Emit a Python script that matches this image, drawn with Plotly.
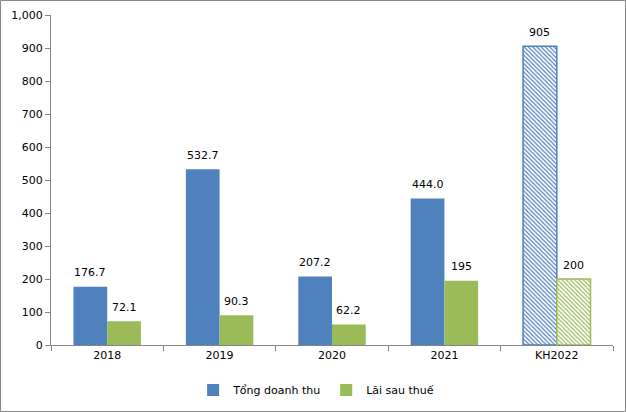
import plotly.graph_objects as go

categories = ["2018", "2019", "2020", "2021", "KH2022"]
revenue = [176.7, 532.7, 207.2, 444.0, 905]
profit = [72.1, 90.3, 62.2, 195, 200]
revenue_labels = ["176.7", "532.7", "207.2", "444.0", "905"]
profit_labels = ["72.1", "90.3", "62.2", "195", "200"]
series_names = ["Tổng doanh thu", "Lãi sau thuế"]
y_ticks = [0, 100, 200, 300, 400, 500, 600, 700, 800, 900, 1000]

BLUE = "#4F81BD"
GREEN = "#9BBB59"
plan = [c.startswith("KH") for c in categories]

W, H = 626, 412
ML, MR, MT, MB = 51, 13, 15, 67
PW, PH = W - ML - MR, H - MT - MB
BARGAP = 0.4

def marker_for(color):
    return dict(
        color=color,
        pattern=dict(
            shape=["\\" if p else "" for p in plan],
            bgcolor="white",
            size=3,
            solidity=0.4,
            fillmode="replace",
        ),
        line=dict(color=color, width=[1.5 if p else 0 for p in plan]),
    )

fig = go.Figure()
fig.add_trace(go.Bar(x=categories, y=revenue, name=series_names[0], marker=marker_for(BLUE)))
fig.add_trace(go.Bar(x=categories, y=profit, name=series_names[1], marker=marker_for(GREEN)))

# value labels above bars (x given as category index)
bar_w = PW / len(categories) * (1 - BARGAP) / 2
for vals, labels, sign in [(revenue, revenue_labels, -1), (profit, profit_labels, 1)]:
    for i, (v, t) in enumerate(zip(vals, labels)):
        fig.add_annotation(x=i, y=v, text=t, showarrow=False, xref="x", yref="y",
                           xshift=sign * bar_w / 2, yshift=14, yanchor="middle",
                           font=dict(size=11, color="black"))

fig.update_layout(
    width=W, height=H,
    margin=dict(l=ML, r=MR, t=MT, b=MB, autoexpand=False),
    paper_bgcolor="white", plot_bgcolor="white",
    font=dict(family="DejaVu Sans", size=11, color="black"),
    barmode="group", bargap=BARGAP, bargroupgap=0,
    showlegend=True,
    legend=dict(orientation="h", x=0.505, xanchor="center", xref="container",
                y=1 - 390 / H, yanchor="middle", yref="container",
                font=dict(size=11), itemwidth=30, traceorder="normal",
                bgcolor="rgba(0,0,0,0)"),
    xaxis=dict(type="category", categoryorder="array", categoryarray=categories,
               range=[-0.5, len(categories) - 0.5],
               showline=True, linecolor="#868686", linewidth=1,
               ticks="outside", tickson="boundaries", ticklen=5, tickcolor="#868686",
               showgrid=False),
    yaxis=dict(range=[0, 1000], tickvals=y_ticks, tickformat=",", showline=True,
               linecolor="#868686", linewidth=1, ticks="outside", ticklen=5,
               tickcolor="#868686", showgrid=False, zeroline=False),
)
fig.add_shape(type="rect", xref="paper", yref="paper",
              x0=(-ML + 0.5) / PW, x1=1 + (MR - 0.5) / PW,
              y0=(-MB + 0.5) / PH, y1=1 + (MT - 0.5) / PH,
              line=dict(color="#868686", width=1), fillcolor="rgba(0,0,0,0)", layer="below")
fig.write_html("out.html", config={"displayModeBar": False})

with open("out.html", encoding="utf-8") as f:
    html = f.read()
html = html.replace("<head>", "<head><style>html,body{margin:0;padding:0;overflow:hidden}</style>", 1)
with open("out.html", "w", encoding="utf-8") as f:
    f.write(html)
